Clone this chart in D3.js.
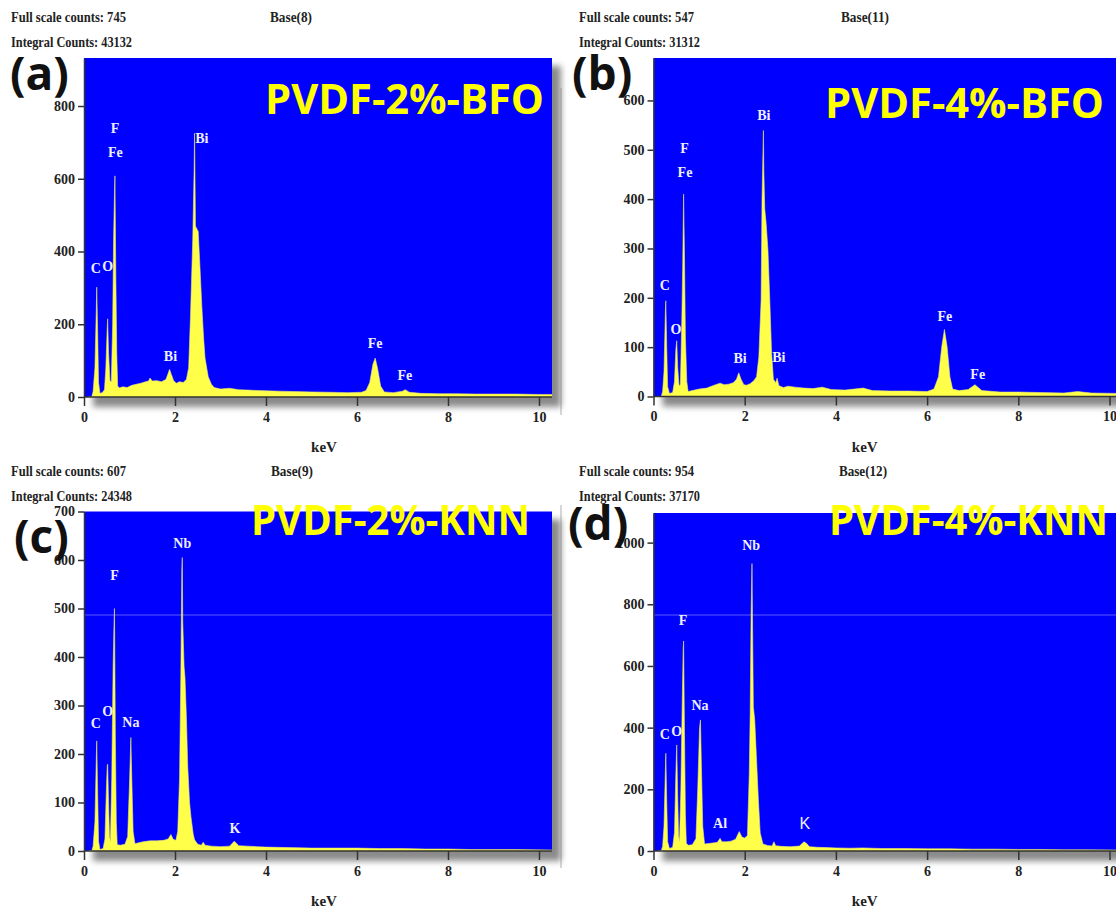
<!DOCTYPE html>
<html>
<head>
<meta charset="utf-8">
<script src="https://cdn.jsdelivr.net/npm/d3@7"></script>
<style>
  body, html { margin: 0; padding: 0; background: white; }
  .hdr { font-family: "Liberation Serif", serif; font-weight: bold; font-size: 15px; fill: #222; }
  .tick text { font-family: "Liberation Serif", serif; font-weight: bold; font-size: 14px; fill: #222; }
  .elem { font-family: "Liberation Serif", serif; font-weight: bold; font-size: 14px; fill: #eef0ff; }
  .title { font-family: "Open Sans", sans-serif; font-weight: bold; fill: #ffff00; }
  .plabel { font-family: "Open Sans", sans-serif; font-weight: bold; fill: #111; }
</style>
</head>
<body>
<script>
// ---- data ----
const titles = ["PVDF-2%-BFO", "PVDF-4%-BFO", "PVDF-2%-KNN", "PVDF-4%-KNN"];
const panelLetters = ["(a)", "(b)", "(c)", "(d)"];
const fullScale = [745, 547, 607, 954];
const integralCounts = [43132, 31312, 24348, 37170];
const bases = [8, 11, 9, 12];
const xTicks = [0, 2, 4, 6, 8, 10];
const yTicks = [
  [0, 200, 400, 600, 800],
  [0, 100, 200, 300, 400, 500, 600],
  [0, 100, 200, 300, 400, 500, 600, 700],
  [0, 200, 400, 600, 800, 1000]
];
const yMax = [932, 686, 700, 1096];

// [keV, counts]
const spectrumA = [[0.10,0],[0.17,0],[0.20,15],[0.24,80],[0.27,240],[0.28,302],[0.30,180],[0.32,40],[0.35,10],[0.40,12],[0.45,20],[0.48,80],[0.51,190],[0.52,215],[0.54,120],[0.57,45],[0.60,42],[0.63,200],[0.65,430],[0.67,560],[0.68,608],[0.70,330],[0.72,120],[0.74,30],[0.78,25],[0.85,28],[0.95,26],[1.05,32],[1.15,35],[1.25,38],[1.35,42],[1.42,44],[1.45,52],[1.50,44],[1.60,45],[1.70,42],[1.80,48],[1.85,65],[1.88,76],[1.92,62],[1.97,45],[2.03,38],[2.10,42],[2.18,40],[2.25,48],[2.30,80],[2.34,221],[2.39,432],[2.42,624],[2.43,725],[2.45,470],[2.49,460],[2.51,455],[2.54,380],[2.59,248],[2.63,160],[2.66,107],[2.73,56],[2.80,35],[2.86,26],[3.0,22],[3.2,24],[3.4,20],[3.6,19],[3.8,18],[4.0,17],[4.3,16],[4.6,15],[5.0,14],[5.4,13],[5.8,12],[6.1,13],[6.2,18],[6.28,40],[6.35,90],[6.40,107],[6.45,80],[6.52,30],[6.6,14],[6.8,12],[7.0,16],[7.06,20],[7.15,13],[7.4,10],[7.8,9],[8.2,9],[8.6,8],[9.0,8],[9.5,8],[10.0,7],[10.3,7]];
const spectrumB = [[0.10,0],[0.17,0],[0.20,10],[0.23,50],[0.26,170],[0.27,194],[0.29,100],[0.31,20],[0.35,6],[0.42,8],[0.46,30],[0.49,95],[0.51,113],[0.53,60],[0.56,22],[0.59,25],[0.62,150],[0.64,260],[0.66,410],[0.68,280],[0.70,120],[0.73,30],[0.76,10],[0.85,12],[1.0,15],[1.17,17],[1.3,22],[1.46,27],[1.55,24],[1.65,25],[1.75,28],[1.82,35],[1.87,48],[1.92,35],[1.98,24],[2.04,23],[2.12,26],[2.2,32],[2.26,40],[2.31,80],[2.36,196],[2.38,400],[2.41,539],[2.42,456],[2.44,380],[2.47,351],[2.51,297],[2.55,196],[2.59,88],[2.63,35],[2.68,28],[2.71,37],[2.75,22],[2.85,18],[2.95,21],[3.1,19],[3.3,17],[3.5,16],[3.7,19],[3.9,14],[4.2,13],[4.6,17],[4.8,12],[5.2,11],[5.6,11],[6.0,10],[6.15,15],[6.25,40],[6.32,100],[6.38,136],[6.44,100],[6.50,40],[6.56,15],[6.7,12],[6.9,14],[7.05,24],[7.1,20],[7.2,12],[7.6,9],[8.0,9],[8.5,8],[9.0,7],[9.3,10],[9.6,7],[10.4,6]];
const spectrumC = [[0.10,0],[0.17,0],[0.20,10],[0.24,60],[0.27,190],[0.28,227],[0.30,120],[0.32,20],[0.35,3],[0.42,5],[0.46,25],[0.49,120],[0.51,175],[0.52,179],[0.54,100],[0.56,30],[0.58,19],[0.61,150],[0.64,380],[0.66,470],[0.67,500],[0.69,230],[0.71,60],[0.73,13],[0.80,12],[0.90,14],[0.96,30],[1.0,140],[1.03,234],[1.05,150],[1.08,40],[1.12,15],[1.20,17],[1.30,19],[1.45,21],[1.60,21],[1.75,22],[1.85,25],[1.91,34],[1.96,24],[2.02,22],[2.06,40],[2.10,150],[2.13,380],[2.15,580],[2.16,605],[2.17,473],[2.20,380],[2.22,357],[2.25,277],[2.28,174],[2.32,100],[2.35,71],[2.40,35],[2.43,23],[2.5,14],[2.58,12],[2.62,18],[2.66,12],[2.8,10],[3.0,9],[3.2,10],[3.3,20],[3.34,17],[3.4,11],[3.6,10],[3.8,9],[4.0,8],[4.5,7],[5.0,6],[5.5,6],[6.0,6],[6.5,5],[7.0,5],[7.5,4],[8.0,4],[8.5,3],[9.0,3],[9.5,3],[10.3,2]];
const spectrumD = [[0.10,0],[0.17,0],[0.20,15],[0.23,80],[0.26,260],[0.27,317],[0.29,160],[0.31,30],[0.35,8],[0.42,12],[0.46,60],[0.49,250],[0.51,344],[0.53,180],[0.55,50],[0.57,30],[0.60,200],[0.63,480],[0.65,650],[0.66,681],[0.68,380],[0.70,120],[0.72,25],[0.76,19],[0.85,20],[0.93,40],[0.97,200],[1.01,400],[1.03,425],[1.05,280],[1.08,80],[1.12,23],[1.2,24],[1.3,26],[1.4,28],[1.46,41],[1.5,30],[1.6,30],[1.7,32],[1.8,38],[1.88,63],[1.94,45],[2.0,42],[2.06,50],[2.10,250],[2.12,447],[2.14,763],[2.16,932],[2.17,771],[2.19,468],[2.22,425],[2.26,295],[2.30,165],[2.34,58],[2.40,23],[2.5,18],[2.6,16],[2.64,30],[2.68,17],[2.8,15],[3.0,14],[3.2,16],[3.3,30],[3.36,24],[3.42,14],[3.6,12],[3.8,11],[4.0,10],[4.3,9],[4.6,10],[5.0,8],[5.5,8],[6.0,7],[6.5,7],[7.0,6],[7.5,6],[8.0,5],[8.5,5],[9.0,4],[9.5,4],[10.4,3]];
const spectra = [spectrumA, spectrumB, spectrumC, spectrumD];

// element labels: [text, keV, counts]
const elemA = [["F",0.68,740],["Fe",0.69,674],["C",0.26,355],["O",0.52,360],["Bi",1.90,113],["Bi",2.59,712],["Fe",6.40,147],["Fe",7.05,59]];
const elemB = [["Bi",2.42,571],["F",0.68,503],["Fe",0.69,455],["C",0.25,226],["O",0.49,136],["Bi",1.90,77],["Bi",2.75,80],["Fe",6.39,163],["Fe",7.11,46]];
const elemC = [["Nb",2.16,634],["F",0.67,569],["C",0.26,263],["O",0.52,289],["Na",1.03,265],["K",3.32,47]];
const elemD = [["Nb",2.14,992],["F",0.65,749],["Na",1.02,473],["C",0.25,378],["O",0.51,390],["Al",1.46,92],["K",3.32,90]];
const elems = [elemA, elemB, elemC, elemD];

// ---- layout ----
const layout = [
  { x0: 84,    pxPerKeV: 45.5, right: 552,  top: 58,    base: 397,   hx: 11,  hy: 22,  bx: 270, lx: 10,  ly: 90,  tx: 544,  ty: 114 },
  { x0: 653.5, pxPerKeV: 45.6, right: 1125, top: 58,    base: 396.5, hx: 579, hy: 22,  bx: 841, lx: 572, ly: 90,  tx: 1104, ty: 118 },
  { x0: 84,    pxPerKeV: 45.5, right: 552,  top: 511.5, base: 851,   hx: 11,  hy: 476, bx: 271, lx: 14,  ly: 553, tx: 530,  ty: 535 },
  { x0: 653.5, pxPerKeV: 45.6, right: 1125, top: 513,   base: 851,   hx: 579, hy: 476, bx: 839, lx: 568, ly: 540, tx: 1108, ty: 535 }
];

const svg = d3.select("body").append("svg")
  .attr("width", 1116).attr("height", 912);

const defs = svg.append("defs");
defs.append("filter").attr("id", "blur")
  .attr("x", "-10%").attr("y", "-10%").attr("width", "130%").attr("height", "130%")
  .append("feGaussianBlur").attr("stdDeviation", 3);

// faint left border of the right-hand images
svg.append("line").attr("x1", 561).attr("x2", 561).attr("y1", 88).attr("y2", 415)
  .attr("stroke", "#c8c8c8").attr("stroke-width", 1.5);
svg.append("line").attr("x1", 561).attr("x2", 561).attr("y1", 505).attr("y2", 868)
  .attr("stroke", "#c8c8c8").attr("stroke-width", 1.5);

layout.forEach((L, i) => {
  const g = svg.append("g");
  const x = d3.scaleLinear().domain([0, 10]).range([L.x0, L.x0 + 10 * L.pxPerKeV]);
  const y = d3.scaleLinear().domain([0, yMax[i]]).range([L.base, L.top]);
  const w = L.right - L.x0, h = L.base - L.top;

  // drop shadow
  g.append("rect")
    .attr("x", L.x0 + 9).attr("y", L.top + 8)
    .attr("width", w).attr("height", h + 2)
    .attr("fill", "#8a8a8a").attr("filter", "url(#blur)");

  // blue plot area
  g.append("rect")
    .attr("x", L.x0).attr("y", L.top)
    .attr("width", w).attr("height", h)
    .attr("fill", "#0000ff");

  const clipId = "clip" + i;
  defs.append("clipPath").attr("id", clipId)
    .append("rect").attr("x", L.x0).attr("y", L.top).attr("width", w).attr("height", h);

  // faint scan line seen in the lower images
  if (i >= 2) {
    g.append("line")
      .attr("x1", L.x0).attr("x2", L.right).attr("y1", 615).attr("y2", 615)
      .attr("stroke", "#5a5aff").attr("stroke-width", 1);
  }

  const area = d3.area()
    .x(d => x(d[0]))
    .y0(y(0))
    .y1(d => y(d[1]));

  g.append("path")
    .datum(spectra[i])
    .attr("clip-path", `url(#${clipId})`)
    .attr("d", area)
    .attr("fill", "#ffff4a")
    .attr("stroke", "#e8e870")
    .attr("stroke-width", 0.6);

  // element labels
  const isSansK = d => d[0] === "K" && i === 3;
  g.selectAll(".elem")
    .data(elems[i])
    .enter().append("text")
    .attr("class", "elem")
    .attr("x", d => x(d[1]))
    .attr("y", d => y(d[2]))
    .attr("text-anchor", "middle")
    .attr("dy", "0.35em")
    .style("font-family", d => isSansK(d) ? "'Liberation Sans', sans-serif" : null)
    .style("font-weight", d => isSansK(d) ? "normal" : null)
    .style("font-size", d => isSansK(d) ? "16px" : null)
    .text(d => d[0]);

  // axes
  const yAxis = g.append("g")
    .attr("transform", `translate(${L.x0},0)`)
    .call(d3.axisLeft(y).tickValues(yTicks[i]).tickFormat(d3.format("d"))
      .tickSize(6).tickSizeOuter(0).tickPadding(3));
  yAxis.select(".domain").attr("stroke", "#333").attr("stroke-width", 1.5);
  yAxis.selectAll(".tick line").attr("stroke", "#333").attr("stroke-width", 1.5);

  const xAxis = g.append("g")
    .attr("transform", `translate(0,${L.base})`)
    .call(d3.axisBottom(x).tickValues(xTicks).tickSize(9).tickSizeOuter(0).tickPadding(6));
  xAxis.select(".domain").attr("d", `M${L.x0},0H${L.right}`).attr("stroke", "#333").attr("stroke-width", 1.5);
  xAxis.selectAll(".tick line").attr("stroke", "#333").attr("stroke-width", 1.5);

  g.append("text")
    .attr("class", "hdr")
    .attr("x", (L.x0 + Math.min(L.right, 1116)) / 2 + (i % 2 ? -20 : 6))
    .attr("y", L.base + 55)
    .attr("text-anchor", "middle")
    .text("keV");

  // header text
  g.append("text").attr("class", "hdr")
    .attr("x", L.hx).attr("y", L.hy)
    .attr("textLength", 115).attr("lengthAdjust", "spacingAndGlyphs")
    .text("Full scale counts: " + fullScale[i]);
  g.append("text").attr("class", "hdr")
    .attr("x", L.hx).attr("y", L.hy + 25)
    .attr("textLength", 121).attr("lengthAdjust", "spacingAndGlyphs")
    .text("Integral Counts: " + integralCounts[i]);
  g.append("text").attr("class", "hdr")
    .attr("x", L.bx).attr("y", L.hy)
    .attr("textLength", bases[i] > 9 ? 48 : 42).attr("lengthAdjust", "spacingAndGlyphs")
    .text("Base(" + bases[i] + ")");

  // panel letter
  g.append("text").attr("class", "plabel")
    .attr("x", L.lx).attr("y", L.ly)
    .style("font-size", "46px")
    .text(panelLetters[i]);

  // sample title
  g.append("text").attr("class", "title")
    .attr("x", L.tx).attr("y", L.ty)
    .attr("text-anchor", "end")
    .style("font-size", "41px")
    .attr("textLength", 279).attr("lengthAdjust", "spacingAndGlyphs")
    .text(titles[i]);
});
</script>
</body>
</html>
